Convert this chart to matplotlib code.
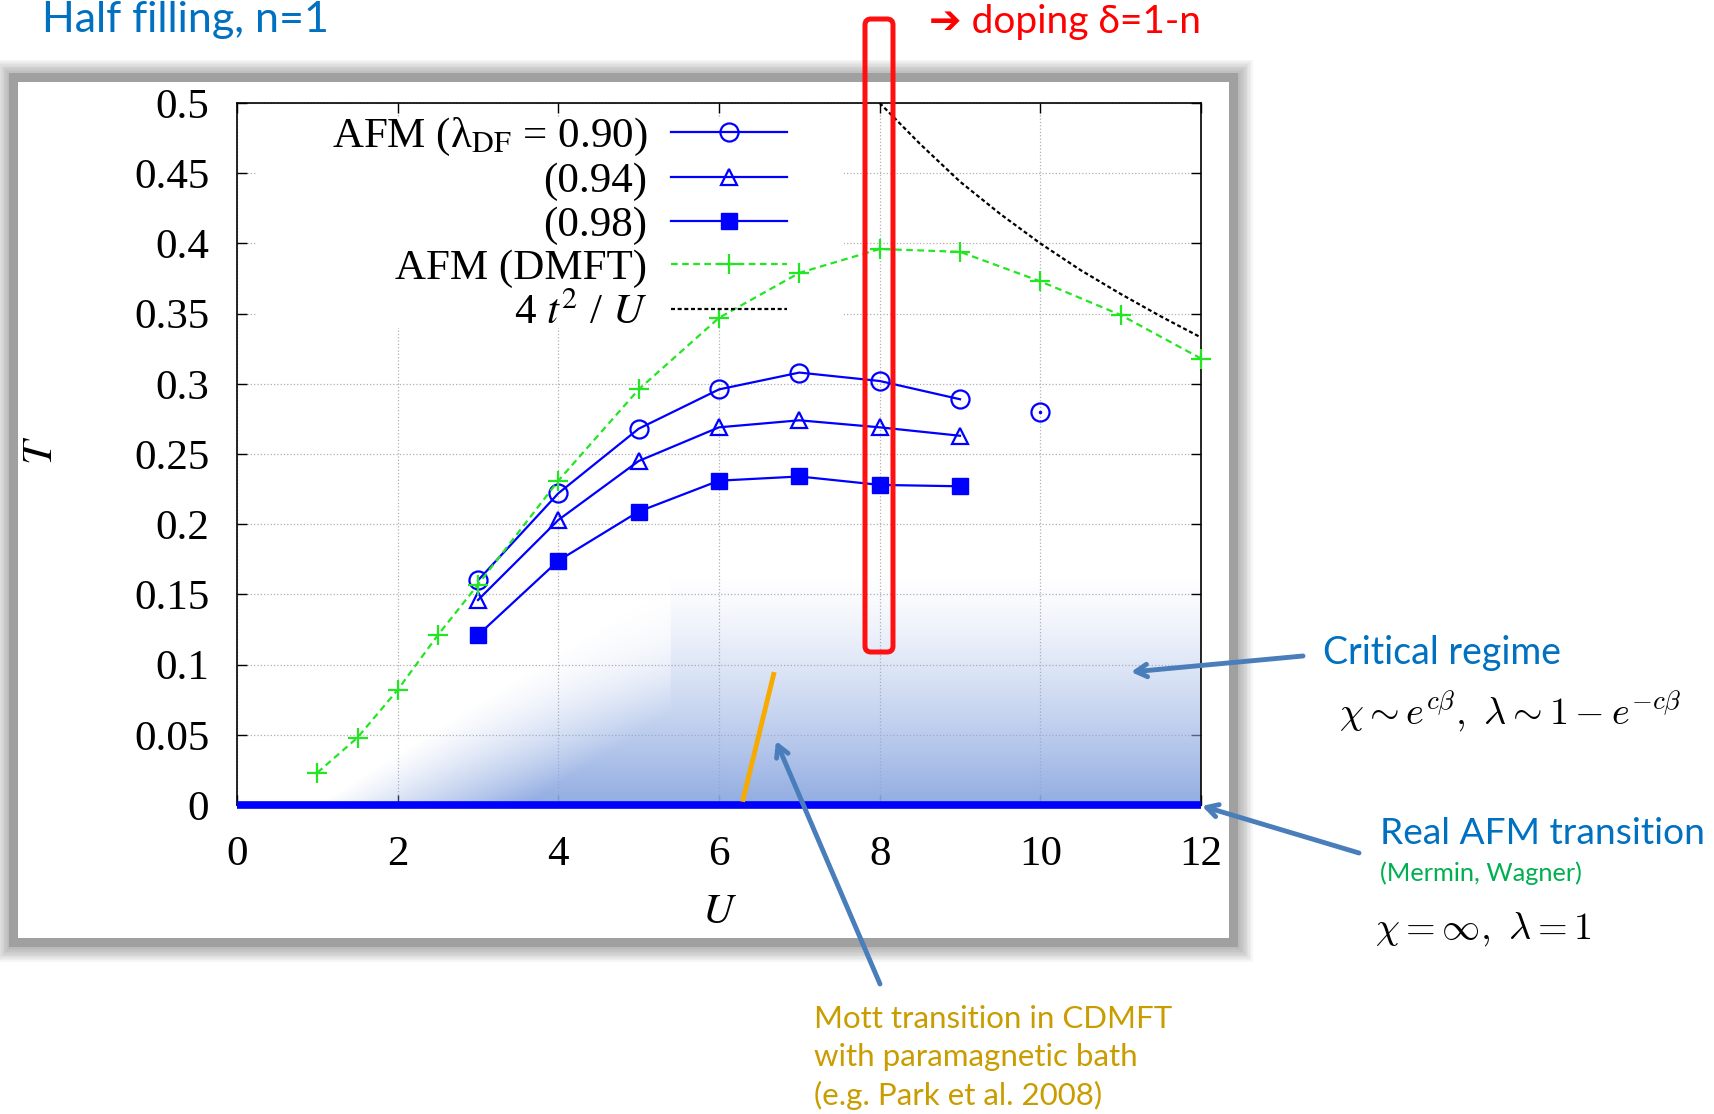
import matplotlib.pyplot as plt
import numpy as np
from matplotlib.patches import Rectangle, FancyBboxPatch

W, H = 1714, 1114

# chart data
U_df = [3, 4, 5, 6, 7, 8, 9]
T_df090 = [0.160, 0.222, 0.268, 0.296, 0.308, 0.302, 0.289]
T_df094 = [0.146, 0.203, 0.245, 0.269, 0.274, 0.269, 0.263]
T_df098 = [0.121, 0.174, 0.209, 0.231, 0.234, 0.228, 0.227]
U_df090_extra = [10]
T_df090_extra = [0.280]

U_dmft = [1, 1.5, 2, 2.5, 3, 4, 5, 6, 7, 8, 9, 10, 11, 12]
T_dmft = [0.023, 0.048, 0.082, 0.121, 0.157, 0.231, 0.296, 0.347, 0.379,
          0.396, 0.394, 0.373, 0.349, 0.318]

U_4t2 = [8, 8.5, 9, 9.5, 10, 10.5, 11, 11.5, 12]
T_4t2 = [0.500, 0.471, 0.444, 0.421, 0.400, 0.381, 0.364, 0.348, 0.333]

U_afm = [0, 12]
T_afm = [0, 0]

U_mott = [6.30, 6.68]
T_mott = [0.004, 0.093]

U_ticks = [0, 2, 4, 6, 8, 10, 12]
T_ticks = [0, 0.05, 0.1, 0.15, 0.2, 0.25, 0.3, 0.35, 0.4, 0.45, 0.5]
T_tick_labels = ["0", "0.05", "0.1", "0.15", "0.2", "0.25", "0.3", "0.35",
                 "0.4", "0.45", "0.5"]

plt.rcParams['font.family'] = ['Liberation Serif', 'DejaVu Serif']
plt.rcParams['mathtext.fontset'] = 'stix'

SANS = ['Lato', 'DejaVu Sans']
BLUE_TXT = '#0070c0'
ARROW = '#4a7ebb'


def inch(x, y):
    # pixel position measured from the top-left corner -> inches for dpi_scale_trans
    return x / 100, (H - y) / 100


fig = plt.figure(figsize=(W / 100, H / 100), dpi=100)
tr = fig.dpi_scale_trans

# grey slide frame with a soft shadow (stacked translucent fills)
for k in range(1, 11):
    off = 4.5 + k * 1.4
    x0, y0 = inch(12.5 - off + 1.5, 941.5 + off + 1.5)
    fig.patches.append(Rectangle((x0, y0), (1220 + 2 * off) / 100, (864.5 + 2 * off) / 100,
                                 transform=tr, lw=0, zorder=-6,
                                 facecolor='#707070', alpha=0.06))
x0, y0 = inch(12.5, 941.5)
fig.patches.append(Rectangle((x0, y0), 12.20, 8.645, transform=tr, facecolor='white',
                             edgecolor='#a0a0a0', lw=6.5, zorder=-5))

ax = fig.add_axes([237 / W, 1 - 805 / H, 964 / W, 702 / H])
ax.set_xlim(0, 12)
ax.set_ylim(0, 0.5)

# critical-regime shading
gx = np.linspace(0, 12, 600)
gy = np.linspace(0, 0.17, 220)
GX, GY = np.meshgrid(gx, gy)
vert = np.clip(1 - GY / 0.165, 0, 1) ** 1.3
diag = np.clip((GX - 1.0 - 27.5 * GY) / 2.6, 0, 1)
fac = np.where(GX < 5.4, vert * diag, vert)
img = np.zeros(GX.shape + (4,))
img[..., 0], img[..., 1], img[..., 2] = 0.55, 0.66, 0.88
img[..., 3] = 0.95 * fac
ax.imshow(img, extent=[0, 12, 0, 0.17], origin='lower', aspect='auto',
          interpolation='bilinear', zorder=1)

ax.set_xticks(U_ticks)
ax.set_yticks(T_ticks, T_tick_labels)
ax.grid(True, ls=':', color='#b0b0b0', lw=0.9)
ax.set_axisbelow(True)
ax.tick_params(direction='in', length=7, width=1, top=True, right=True,
               labelsize=31, pad=20)
ax.tick_params(axis='x', pad=22)
for s in ax.spines.values():
    s.set_linewidth(1.2)

# opaque key background (hides grid under the key)
ax.add_patch(Rectangle((0.25, 0.34), 7.3, 0.15, facecolor='white', edgecolor='none',
                       zorder=1.5))

ax.plot(U_df, T_df090, '-o', color='#0000ff', lw=1.6, ms=13, mfc='none', mew=1.6,
        label="AFM (\u03bb$_{\\rm DF}$ = 0.90)", zorder=3)
ax.plot(U_df, T_df094, '-^', color='#0000ff', lw=1.6, ms=11.5, mfc='none', mew=1.6,
        label="(0.94)", zorder=3)
ax.plot(U_df, T_df098, '-s', color='#0000ff', lw=1.6, ms=11, label="(0.98)", zorder=3)
ax.plot(U_dmft, T_dmft, '--+', color='#22e622', lw=1.6, ms=14, mew=1.6,
        dashes=(3, 2), label="AFM (DMFT)", zorder=3, clip_on=False)
ax.plot(U_4t2, T_4t2, '--', color='black', lw=1.6, dashes=(1.8, 1.2),
        label=r"4 $t^2$ / $U$", zorder=3)
ax.plot(U_df090_extra, T_df090_extra, 'o', color='#0000ff', ms=13, mfc='none',
        mew=1.6, zorder=3)
ax.plot(U_df090_extra, T_df090_extra, '.', color='#0000ff', ms=3, zorder=3)

ax.plot(U_afm, T_afm, color='#0000ff', lw=5.5, solid_capstyle='butt', clip_on=False,
        zorder=4)
ax.plot(U_mott, T_mott, color='#f7aa00', lw=3.5, zorder=4)

leg = ax.legend(loc='upper right', bbox_to_anchor=(6.85, 0.491),
                bbox_transform=ax.transData, frameon=False, markerfirst=False,
                fontsize=31, handlelength=2.7, handletextpad=0.55,
                labelspacing=0.1, borderpad=0, borderaxespad=0)
leg.set_zorder(5)

fig.text(42 / W, 1 - 450 / H, r"$T$", fontsize=31, rotation=90, ha='center', va='center')
fig.text(719 / W, 1 - 913 / H, r"$U$", fontsize=31, ha='center', va='center')

# red box around U = 8
x0, y0 = inch(865, 652)
fig.patches.append(FancyBboxPatch((x0, y0), 0.28, 6.33, transform=tr,
                                  boxstyle='round,pad=0,rounding_size=0.06',
                                  fill=False, edgecolor='#ff1010', lw=3.6, zorder=10))

# annotations
fig.text(42 / W, 1 - 1 / H, "Half filling, n=1", color=BLUE_TXT, fontsize=31,
         family=SANS, ha='left', va='top')
fig.text(929 / W, 1 - 22 / H, "\u2794 doping \u03b4=1-n", color='#ff0000', fontsize=28,
         family=SANS, ha='left', va='center')
fig.text(1323 / W, 1 - 653 / H, "Critical regime", color=BLUE_TXT, fontsize=27,
         family=SANS, ha='left', va='center')
fig.text(1339 / W, 1 - 712 / H, r"$\chi \sim e^{c\beta},\ \lambda \sim 1 - e^{-c\beta}$",
         fontsize=27.5, math_fontfamily='cm', ha='left', va='center')
fig.text(1380 / W, 1 - 834 / H, "Real AFM transition", color=BLUE_TXT, fontsize=26.7,
         family=SANS, ha='left', va='center')
fig.text(1380 / W, 1 - 873 / H, "(Mermin, Wagner)", color='#00b050', fontsize=18.3,
         family=SANS, ha='left', va='center')
fig.text(1375 / W, 1 - 929 / H, r"$\chi = \infty,\ \lambda = 1$",
         fontsize=27.5, math_fontfamily='cm', ha='left', va='center')
for i, line in enumerate(["Mott transition in CDMFT", "with paramagnetic bath",
                          "(e.g. Park et al. 2008)"]):
    fig.text(814 / W, 1 - (1019 + 38 * i) / H, line, color='#c99c00', fontsize=22.5,
             family=SANS, ha='left', va='center')

for start, end in [((1303, 656), (1131, 672)),
                   ((1359, 853), (1202, 806)),
                   ((880, 984), (776, 741))]:
    ax.annotate('', xy=(end[0], H - end[1]), xycoords='figure pixels',
                xytext=(start[0], H - start[1]), textcoords='figure pixels',
                arrowprops=dict(arrowstyle='->,head_length=0.8,head_width=0.45',
                                color=ARROW, lw=3.5, shrinkA=0, shrinkB=0),
                annotation_clip=False, zorder=8)

fig.savefig('out.png', dpi=100)
